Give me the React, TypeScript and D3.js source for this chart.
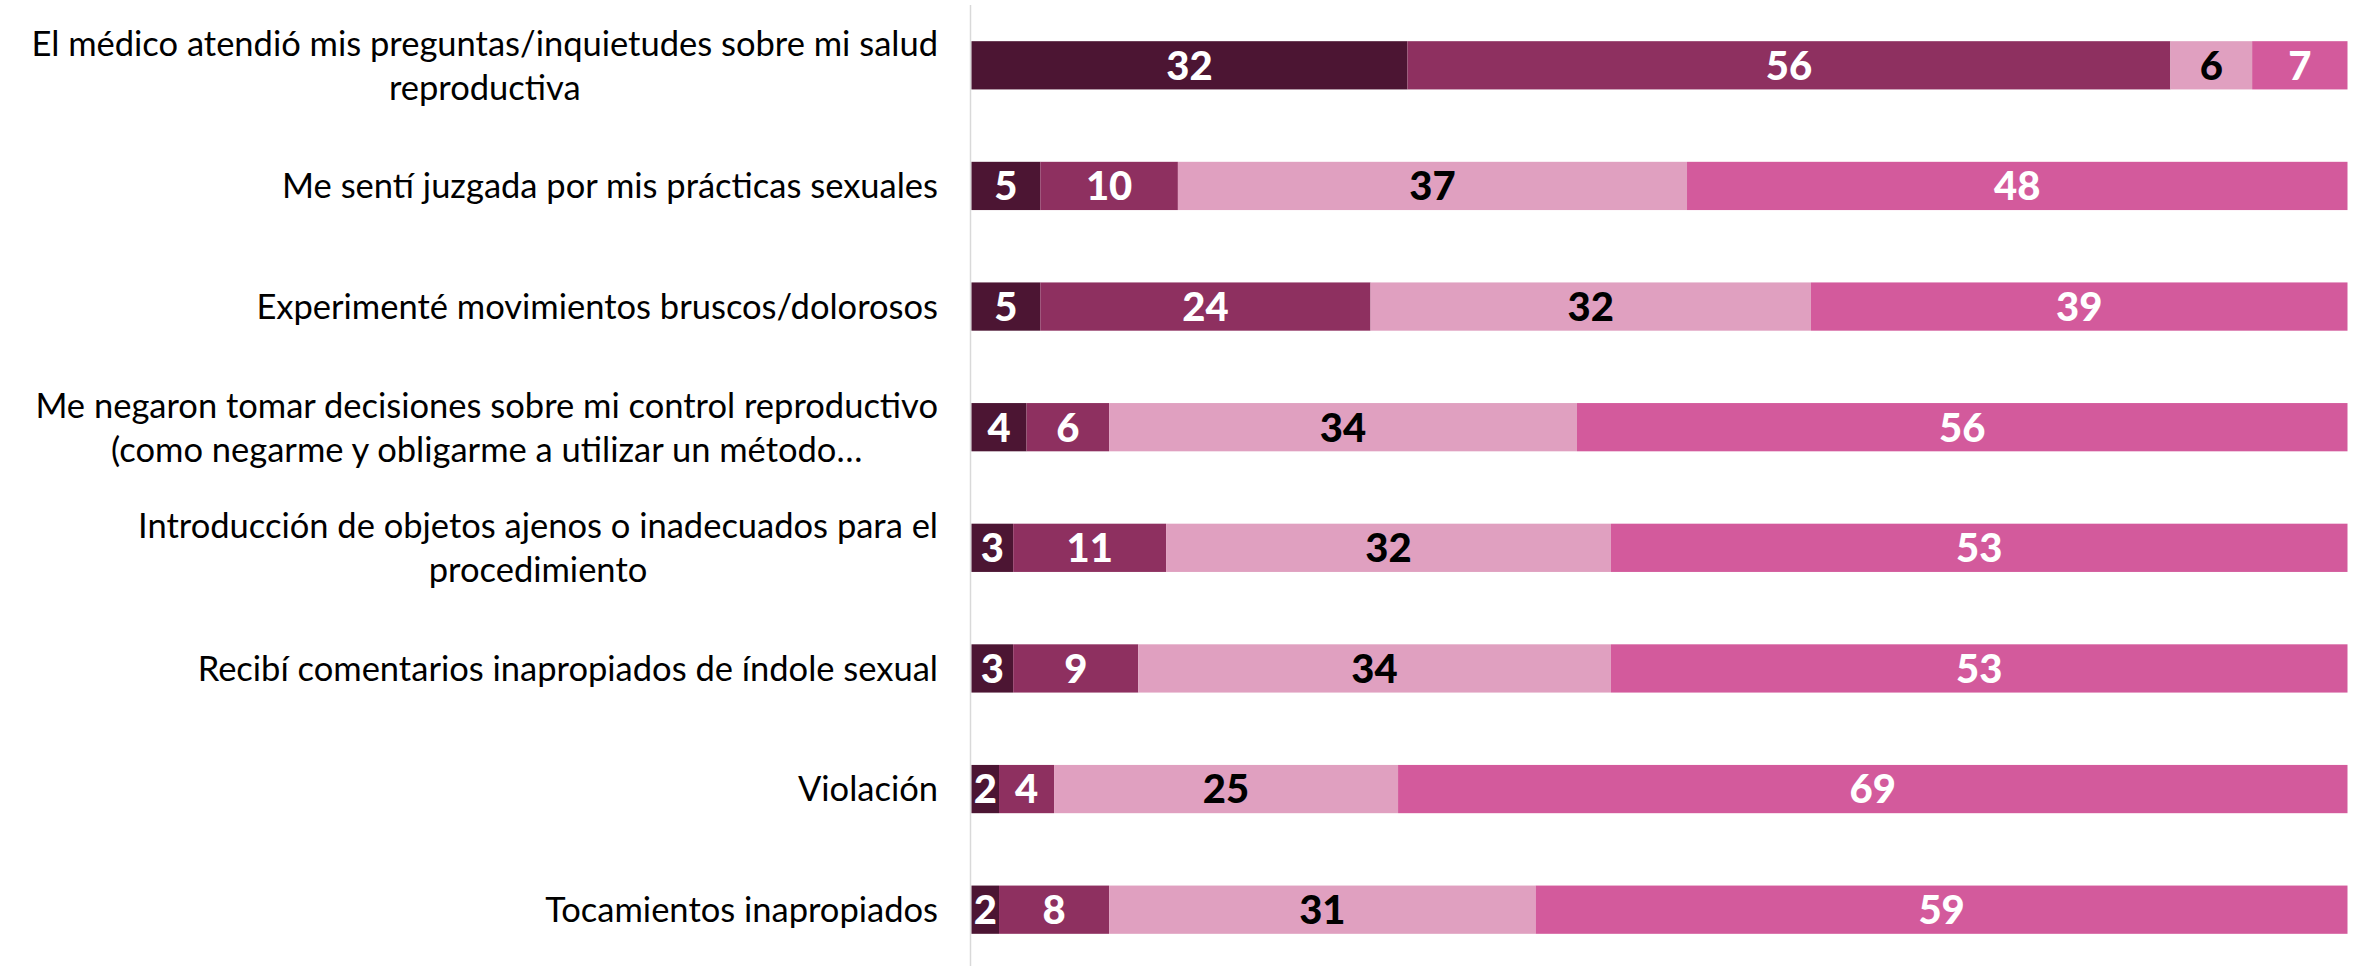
import React, { useLayoutEffect, useRef } from "react";
import * as d3 from "d3";

const categories: string[] = [
  "El médico atendió mis preguntas/inquietudes sobre mi salud\nreproductiva",
  "Me sentí juzgada por mis prácticas sexuales",
  "Experimenté movimientos bruscos/dolorosos",
  "Me negaron tomar decisiones sobre mi control reproductivo\n(como negarme y obligarme a utilizar un método…",
  "Introducción de objetos ajenos o inadecuados para el\nprocedimiento",
  "Recibí comentarios inapropiados de índole sexual",
  "Violación",
  "Tocamientos inapropiados",
];

const seriesNames: string[] = ["Serie 1", "Serie 2", "Serie 3", "Serie 4"];
const serie1: number[] = [32, 5, 5, 4, 3, 3, 2, 2];
const serie2: number[] = [56, 10, 24, 6, 11, 9, 4, 8];
const serie3: number[] = [6, 37, 32, 34, 32, 34, 25, 31];
const serie4: number[] = [7, 48, 39, 56, 53, 53, 69, 59];

const colors: string[] = ["#4C1533", "#8E3060", "#E0A0C0", "#D35A9C"];
const labelColors: string[] = ["#FFFFFF", "#FFFFFF", "#000000", "#FFFFFF"];

const W = 2364;
const H = 966;
const X0 = 971.5;
const X1 = 2347.5;
const LABEL_RIGHT = 938;
const CAT_FONT = 34.5;
const VAL_FONT = 40;
const LINE_GAP = 44;

export default function App() {
  const labelsRef = useRef<SVGGElement | null>(null);

  const allSeries = [serie1, serie2, serie3, serie4];
  const x = d3.scaleLinear().domain([0, 100]).range([X0, X1]);
  const y = d3
    .scaleBand<string>()
    .domain(categories)
    .range([5, 970])
    .paddingInner(0.6)
    .paddingOuter(0.3);

  const rows = categories.map((c, i) => {
    const vals = allSeries.map((s) => s[i]);
    const total = d3.sum(vals);
    let acc = 0;
    const segs = vals.map((v, k) => {
      const start = (acc / total) * 100;
      acc += v;
      const end = (acc / total) * 100;
      return { k, v, start, end };
    });
    return { c, segs };
  });

  useLayoutEffect(() => {
    const g = labelsRef.current;
    if (!g) return;
    d3.select(g)
      .selectAll<SVGGElement, unknown>("g.cat")
      .each(function () {
        const node = this as SVGGElement;
        const texts = Array.from(node.querySelectorAll("text")) as SVGTextElement[];
        const maxW = d3.max(texts, (t) => t.getComputedTextLength()) || 0;
        const cx = LABEL_RIGHT - maxW / 2;
        const cy = Number(node.getAttribute("data-cy"));
        d3.select(node).attr("transform", `translate(${cx},${cy})`);
      });
  }, []);

  return (
    <svg
      width={W}
      height={H}
      style={{ position: "absolute", left: 0, top: 0, background: "#fff" }}
    >
      <line x1={970.5} x2={970.5} y1={5} y2={H} stroke="#D9D9D9" strokeWidth={1.5} />
      {rows.map((r) => {
        const by = y(r.c) as number;
        const bh = y.bandwidth();
        return (
          <g key={r.c}>
            {r.segs.map((s) => (
              <g key={seriesNames[s.k]}>
                <rect
                  x={x(s.start)}
                  y={by}
                  width={x(s.end) - x(s.start)}
                  height={bh}
                  fill={colors[s.k]}
                />
                <text
                  x={(x(s.start) + x(s.end)) / 2}
                  y={by + bh / 2}
                  dy="0.36em"
                  textAnchor="middle"
                  fill={labelColors[s.k]}
                  fontFamily="Lato, 'Open Sans', sans-serif"
                  fontWeight={900}
                  fontSize={VAL_FONT}
                >
                  {s.v}
                </text>
              </g>
            ))}
          </g>
        );
      })}
      <g ref={labelsRef}>
        {categories.map((c) => {
          const lines = c.split("\n");
          const cy = (y(c) as number) + y.bandwidth() / 2;
          return (
            <g key={c} className="cat" data-cy={cy} transform={`translate(${LABEL_RIGHT - 300},${cy})`}>
              {lines.map((ln, i) => (
                <text
                  key={i}
                  x={0}
                  y={(i - (lines.length - 1) / 2) * LINE_GAP}
                  dy="0.36em"
                  textAnchor="middle"
                  fill="#000"
                  fontFamily="Lato, 'Open Sans', sans-serif"
                  fontSize={CAT_FONT}
                >
                  {ln}
                </text>
              ))}
            </g>
          );
        })}
      </g>
    </svg>
  );
}
